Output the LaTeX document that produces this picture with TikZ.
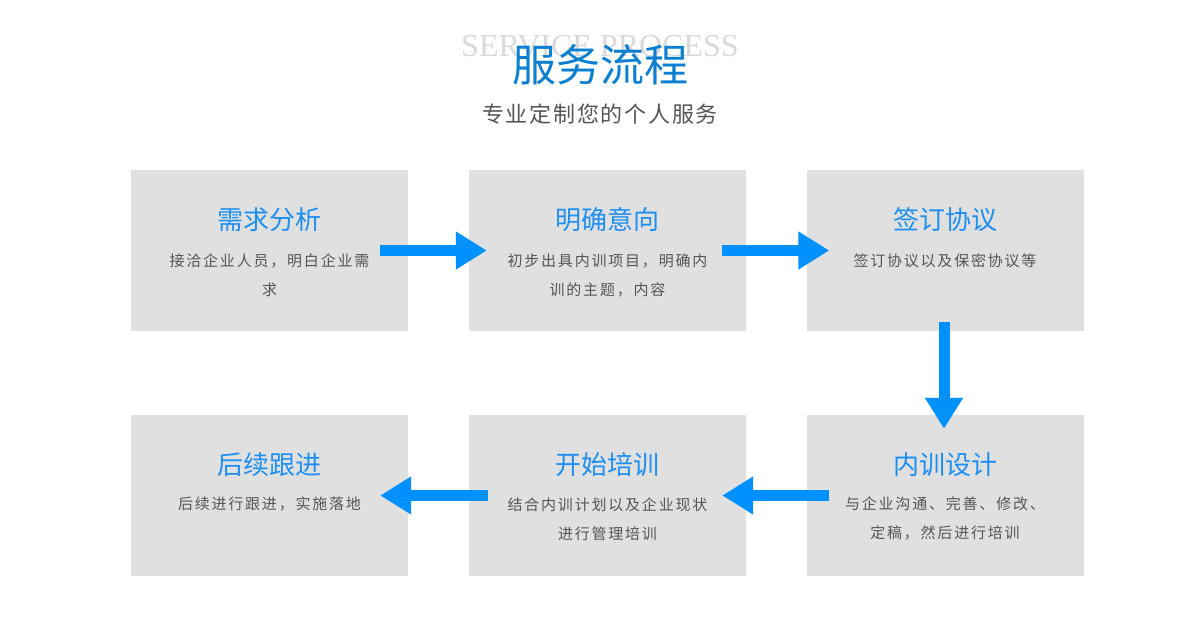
\documentclass[tikz,border=0pt]{standalone}
\usepackage{fontspec}
\usetikzlibrary{arrows.meta}
\setmainfont{Liberation Serif}
\newfontfamily\cjk{Noto Sans CJK SC}
\newfontfamily\cjkbody{Noto Sans CJK SC}[LetterSpace=12]
\newfontfamily\cjksub{Noto Sans CJK SC}[LetterSpace=8]
\definecolor{boxgray}{HTML}{E0E0E0}
\definecolor{headblue}{HTML}{0B7FD2}
\definecolor{titleblue}{HTML}{1C8FF2}
\definecolor{arrowblue}{HTML}{0091FF}
\definecolor{bodygray}{HTML}{555555}
\definecolor{subgray}{HTML}{555555}
\definecolor{ghost}{HTML}{DADADA}
\tikzset{
  stepbox/.style={fill=boxgray, draw=none, minimum width=277pt, minimum height=161pt, inner sep=0pt},
  boxtitle/.style={text=titleblue, font={\cjk\fontsize{26}{30}\selectfont}, inner sep=0pt},
  boxbody/.style={text=bodygray, font={\cjkbody\fontsize{15}{29}\selectfont}, align=center, inner sep=0pt},
  flow/.style={draw=arrowblue, line width=11pt, -{Triangle[width=36pt,length=31pt,fill=arrowblue]}}
}
\begin{document}
\begin{tikzpicture}[x=1pt,y=-1pt]
\useasboundingbox (0,0) rectangle (1200,623);
\fill[white] (0,0) rectangle (1200,623);
% header
\node[anchor=base, text=ghost, font={\fontsize{32}{36}\selectfont}, inner sep=0pt] (eng) at (600,57) {SERVICE PROCESS};
\node[text=headblue, font={\cjk\fontsize{44}{50}\selectfont}, inner sep=0pt] (head) at (600,65) {服务流程};
\node[text=subgray, font={\cjksub\fontsize{22}{26}\selectfont}, inner sep=0pt] (sub) at (600,114) {专业定制您的个人服务};
% boxes
\node[stepbox] (b1) at (269.5,250.5) {};
\node[stepbox] (b2) at (607.5,250.5) {};
\node[stepbox] (b3) at (945,250.5) {};
\node[stepbox] (b4) at (269.5,495.5) {};
\node[stepbox] (b5) at (607.5,495.5) {};
\node[stepbox] (b6) at (945,495.5) {};
% titles
\node[boxtitle] (t1) at ([yshift=-50pt]b1.north) {需求分析};
\node[boxtitle] (t2) at ([yshift=-50pt]b2.north) {明确意向};
\node[boxtitle] (t3) at ([yshift=-50pt]b3.north) {签订协议};
\node[boxtitle] (t4) at ([yshift=-50pt]b4.north) {后续跟进};
\node[boxtitle] (t5) at ([yshift=-50pt]b5.north) {开始培训};
\node[boxtitle] (t6) at ([yshift=-50pt]b6.north) {内训设计};
% bodies
\node[boxbody] (d1) at ([yshift=-105.5pt]b1.north) {接洽企业人员，明白企业需\\求};
\node[boxbody] (d2) at ([yshift=-105.5pt]b2.north) {初步出具内训项目，明确内\\训的主题，内容};
\node[boxbody] (d3) at ([yshift=-91pt]b3.north) {签订协议以及保密协议等};
\node[boxbody] (d4) at ([yshift=-89pt]b4.north) {后续进行跟进，实施落地};
\node[boxbody] (d5) at ([yshift=-104pt]b5.north) {结合内训计划以及企业现状\\进行管理培训};
\node[boxbody] (d6) at ([yshift=-104pt]b6.north) {与企业沟通、完善、修改、\\定稿，然后进行培训};
% arrows
\draw[flow] ([xshift=-28pt]b1.east) -- ([xshift=18pt]b2.west);
\draw[flow] ([xshift=-24pt]b2.east) -- ([xshift=23pt]b3.west);
\draw[flow] ([xshift=-1pt,yshift=9pt]b3.south) -- ([xshift=-1pt,yshift=-14pt]b6.north);
\draw[flow] ([xshift=23pt]b6.west) -- ([xshift=-24pt]b5.east);
\draw[flow] ([xshift=19pt]b5.west) -- ([xshift=-28pt]b4.east);
\end{tikzpicture}
\end{document}
